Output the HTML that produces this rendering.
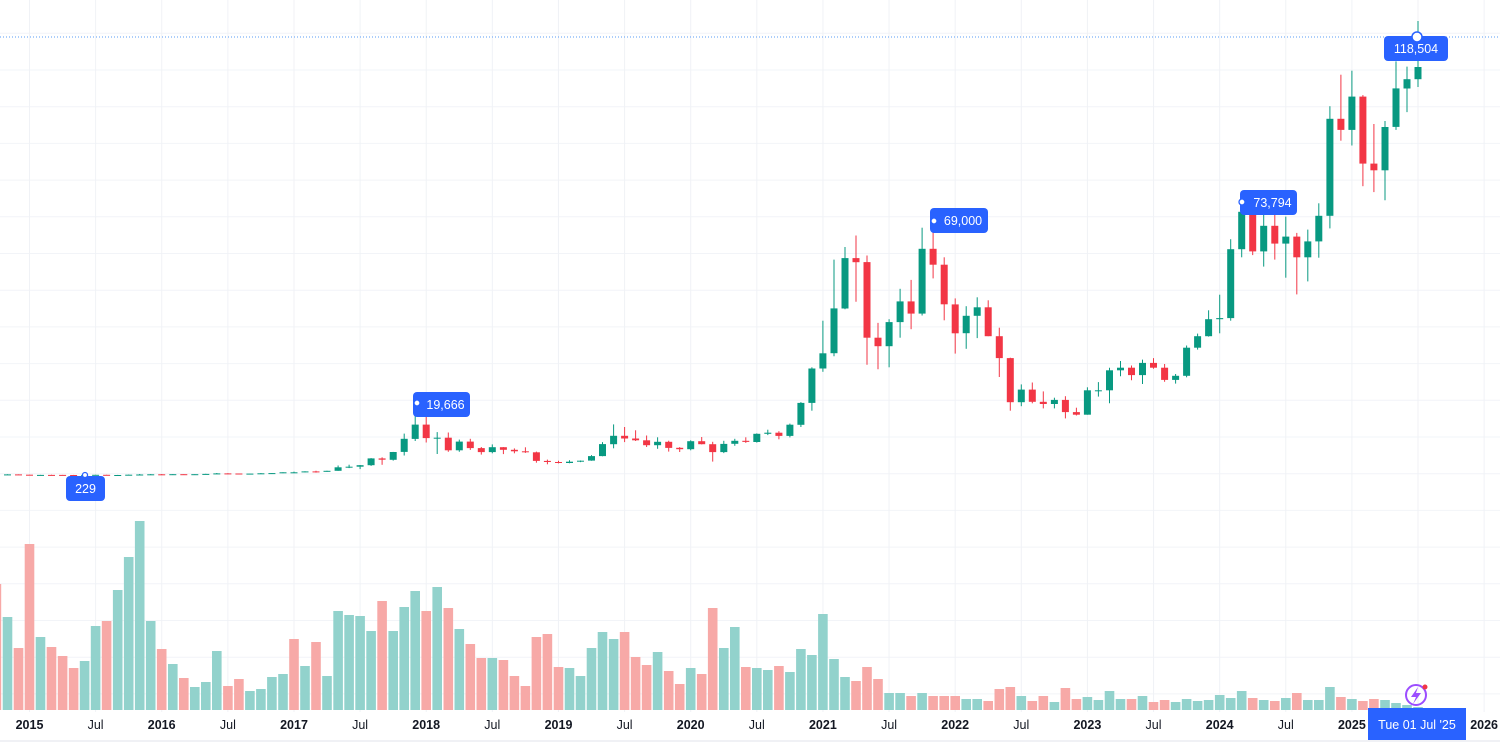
<!DOCTYPE html>
<html><head><meta charset="utf-8"><style>
html,body{margin:0;padding:0;background:#fff;overflow:hidden}
svg{display:block}
text{font-family:"Liberation Sans",sans-serif}
</style></head><body>
<svg id="s" width="1500" height="746" xmlns="http://www.w3.org/2000/svg"></svg>
<script>
const S=document.getElementById('s');let h='';
const X=m=>29.5+m*11.02;
const Y=p=>475-(p-0.229)/0.27;
// grid
for(let y=33.3;y<712;y+=36.7)h+=`<line x1="0" x2="1500" y1="${y.toFixed(1)}" y2="${y.toFixed(1)}" stroke="#f2f4f8" stroke-width="1"/>`;
const labs=['2015','Jul','2016','Jul','2017','Jul','2018','Jul','2019','Jul','2020','Jul','2021','Jul','2022','Jul','2023','Jul','2024','Jul','2025','Jul','2026'];
labs.forEach((l,i)=>{const x=X(i*6);h+=`<line x1="${x}" x2="${x}" y1="0" y2="712" stroke="#f0f2f6"/>`;});
// volume
const V=[[584,'r'],[617,'g'],[648,'r'],[544,'r'],[637,'g'],[647,'r'],[656,'r'],[668,'r'],[661,'g'],[626,'g'],[621,'r'],[590,'g'],[557,'g'],[521,'g'],[621,'g'],
[649,'r'],[664,'g'],[678,'r'],[687,'g'],[682,'g'],[651,'g'],[686,'r'],[679,'r'],[691,'g'],[689,'g'],[677,'g'],[674,'g'],
[639,'r'],[666,'g'],[642,'r'],[676,'g'],[611,'g'],[615,'g'],[616,'g'],[631,'g'],[601,'r'],[631,'g'],[607,'g'],[591,'g'],
[611,'r'],[587,'g'],[608,'r'],[629,'g'],[644,'r'],[658,'r'],[658,'g'],[660,'r'],[676,'r'],[686,'r'],[637,'r'],[634,'r'],
[667,'r'],[668,'g'],[676,'g'],[648,'g'],[632,'g'],[639,'g'],[632,'r'],[657,'r'],[665,'r'],[652,'g'],[671,'r'],[684,'r'],
[668,'g'],[674,'r'],[608,'r'],[648,'g'],[627,'g'],[667,'r'],[668,'g'],[670,'g'],[666,'r'],[672,'g'],[649,'g'],[655,'g'],
[614,'g'],[659,'g'],[677,'g'],[681,'r'],[667,'r'],[679,'r'],[693,'g'],[693,'g'],[696,'r'],[693,'g'],[696,'r'],[696,'r'],
[696,'r'],[699,'g'],[699,'g'],[701,'r'],[689,'r'],[687,'r'],[696,'g'],[701,'r'],[696,'r'],[702,'g'],[688,'r'],[699,'r'],
[697,'g'],[700,'g'],[691,'g'],[699,'g'],[699,'r'],[696,'g'],[702,'r'],[700,'r'],[702,'g'],[699,'g'],[701,'g'],[700,'g'],
[695,'g'],[698,'g'],[691,'g'],[698,'r'],[700,'g'],[701,'r'],[698,'g'],[693,'r'],[700,'g'],[700,'g'],[687,'g'],[697,'r'],
[699,'g'],[701,'r'],[699,'r'],[700,'g'],[703,'g'],[705,'g'],[707,'g']];
V.forEach((v,i)=>{const m=i-3,x=X(m);h+=`<rect x="${(x-4.8).toFixed(1)}" y="${v[0]}" width="9.6" height="${710-v[0]}" fill="${v[1]=='g'?'#92d2cc':'#f7a9a7'}"/>`;});
// candles [o,h,l,c] in k
const C=[[388,415,275,338],[338,457,316,378],[378,384,310,320],
[320,320,165,217],[217,265,212,254],[254,300,240,244],[244,261,215,236],[236,248,228,230],[230,268,221,263],[263,318,254,284],[284,286,199,230],[230,243,225,236],[236,335,235,314],[314,503,309,377],[377,467,347,430],
[430,463,364,369],[369,448,366,437],[437,439,391,416],[416,467,414,448],[448,553,442,531],[531,780,521,673],[673,704,469,624],[624,626,513,575],[575,614,572,609],[609,742,605,701],[701,756,691,742],[742,979,738,963],
[963,1160,751,970],[970,1220,920,1190],[1190,1350,890,1080],[1080,1360,1080,1350],[1350,2800,1350,2300],[2300,3000,2100,2480],[2480,2920,1830,2875],[2875,4780,2690,4700],[4700,5000,2970,4340],[4340,6470,4120,6450],[6450,11400,5500,10000],[10000,19666,9400,13850],
[13850,17200,9000,10200],[10200,11800,5900,10300],[10300,11700,6500,6900],[6900,9800,6500,9240],[9240,10000,7000,7490],[7490,7800,5750,6400],[6400,8500,6100,7730],[7730,7750,5880,7030],[7030,7400,6100,6630],[6630,7700,6200,6370],[6370,6550,3550,4040],[4040,4400,3120,3740],
[3740,4100,3350,3460],[3460,4200,3400,3820],[3820,4150,3700,4100],[4100,5600,4080,5320],[5320,9100,5300,8560],[8560,13900,7450,10820],[10820,13200,9100,10080],[10080,12300,9400,9600],[9600,10900,7800,8290],[8290,10400,7300,9200],[9200,9500,6550,7560],[7560,7750,6430,7190],
[7190,9600,6900,9350],[9350,10500,8500,8540],[8540,9200,3850,6410],[6410,9470,6150,8630],[8630,10000,8100,9450],[9450,10400,8900,9140],[9140,11450,8980,11350],[11350,12470,11000,11650],[11650,12060,9870,10780],[10780,14100,10380,13800],[13800,19900,13200,19700],[19700,29300,17600,28990],
[28990,41900,28100,33100],[33100,58400,32300,45200],[45200,61800,45000,58800],[58800,64900,47000,57700],[57700,59500,30000,37300],[37300,41300,28800,35000],[35000,42300,29300,41500],[41500,50500,37300,47100],[47100,52900,39600,43800],[43800,67000,43300,61300],[61300,69000,53300,57000],[57000,59000,42000,46300],
[46300,47900,33000,38500],[38500,45800,34300,43200],[43200,48200,37200,45500],[45500,47400,37700,37700],[37700,40000,26700,31800],[31800,31900,17600,19900],[19900,24700,18800,23300],[23300,25200,19600,20000],[20000,22800,18200,19400],[19400,21100,18200,20500],[20500,21500,15500,17200],[17200,18400,16300,16500],
[16500,23900,16500,23100],[23100,25300,21400,23100],[23100,29200,19600,28500],[28500,31000,26900,29200],[29200,29800,25800,27200],[27200,31400,24800,30500],[30500,31800,28900,29200],[29200,30200,25400,25900],[25900,27500,24900,27000],[27000,35200,26600,34600],[34600,38400,34100,37700],[37700,44700,37600,42300],
[42300,48900,38500,42600],[42600,63900,41900,61200],[61200,73794,59000,71300],[71300,72800,59600,60600],[60600,71900,56500,67500],[67500,72000,58400,62700],[62700,70000,53500,64600],[64600,65600,49000,59000],[59000,66500,52500,63300],[63300,73600,58900,70200],[70200,99800,66800,96400],[96400,108300,90500,93400],
[93400,109400,89200,102400],[102400,102800,78200,84300],[84300,95000,76600,82500],[82500,95800,74400,94200],[94200,111900,93400,104600],[104600,110500,98200,107100],[107100,122800,105000,110400]];
C.forEach((c,i)=>{const m=i-3,x=X(m);const [o,hi,lo,cl]=c.map(v=>v/1000);const col=cl>=o?'#089981':'#f23645';
const t=Y(Math.max(o,cl)),b=Y(Math.min(o,cl));
h+=`<line x1="${x.toFixed(1)}" x2="${x.toFixed(1)}" y1="${Y(hi).toFixed(1)}" y2="${Y(lo).toFixed(1)}" stroke="${col}" stroke-width="1"/>`;
h+=`<rect x="${(x-3.5).toFixed(1)}" y="${t.toFixed(1)}" width="7" height="${Math.max(1,b-t).toFixed(1)}" fill="${col}"/>`;});
// price line
h+=`<line x1="0" x2="1500" y1="37" y2="37" stroke="#5b9cf6" stroke-width="1" stroke-dasharray="1,2"/>`;
// labels
function lab(x,y,w,t,cx,cy){h+=`<rect x="${x}" y="${y}" width="${w}" height="25" rx="4" fill="#2962ff"/><text x="${x+w/2+(cx==null?0:4)}" y="${y+17}" font-size="12.5" fill="#fff" text-anchor="middle">${t}</text>`;}
lab(413,392,57,'19,666',0);h+=`<circle cx="417" cy="403" r="3" fill="#fff" stroke="#2962ff" stroke-width="1.3"/>`;
lab(66,476,39,'229');h+=`<circle cx="85" cy="475" r="2.5" fill="#fff" stroke="#2962ff" stroke-width="1.2"/>`;
lab(930,208,58,'69,000',0);h+=`<circle cx="934" cy="221" r="3" fill="#fff" stroke="#2962ff" stroke-width="1.3"/>`;
lab(1240,190,57,'73,794',0);h+=`<circle cx="1242" cy="202" r="3" fill="#fff" stroke="#2962ff" stroke-width="1.3"/>`;
lab(1384,36,64,'118,504');h+=`<circle cx="1417" cy="37" r="5" fill="#fff" stroke="#2962ff" stroke-width="1.5"/>`;
// x axis
h+=`<line x1="0" x2="1500" y1="741" y2="741" stroke="#e0e3eb"/>`;
labs.forEach((l,i)=>{if(i==21)return;const x=X(i*6);h+=`<text x="${x.toFixed(1)}" y="729" font-size="12.5" fill="#131722" text-anchor="middle" ${l=='Jul'?'':'font-weight="bold"'}>${l}</text>`;});
h+=`<rect x="1368" y="708" width="98" height="32" fill="#2962ff"/><text x="1417" y="729" font-size="12.5" fill="#fff" text-anchor="middle">Tue 01 Jul '25</text>`;
// icon
h+=`<circle cx="1416" cy="695" r="10" fill="none" stroke="#9c4dff" stroke-width="2"/><path d="M1418 687 L1411 697 L1416 697 L1413 704 L1421 693 L1416 693 Z" fill="#9c4dff"/><circle cx="1425" cy="687" r="2.5" fill="#f23645"/>`;
S.innerHTML=h;
</script>
</body></html>
